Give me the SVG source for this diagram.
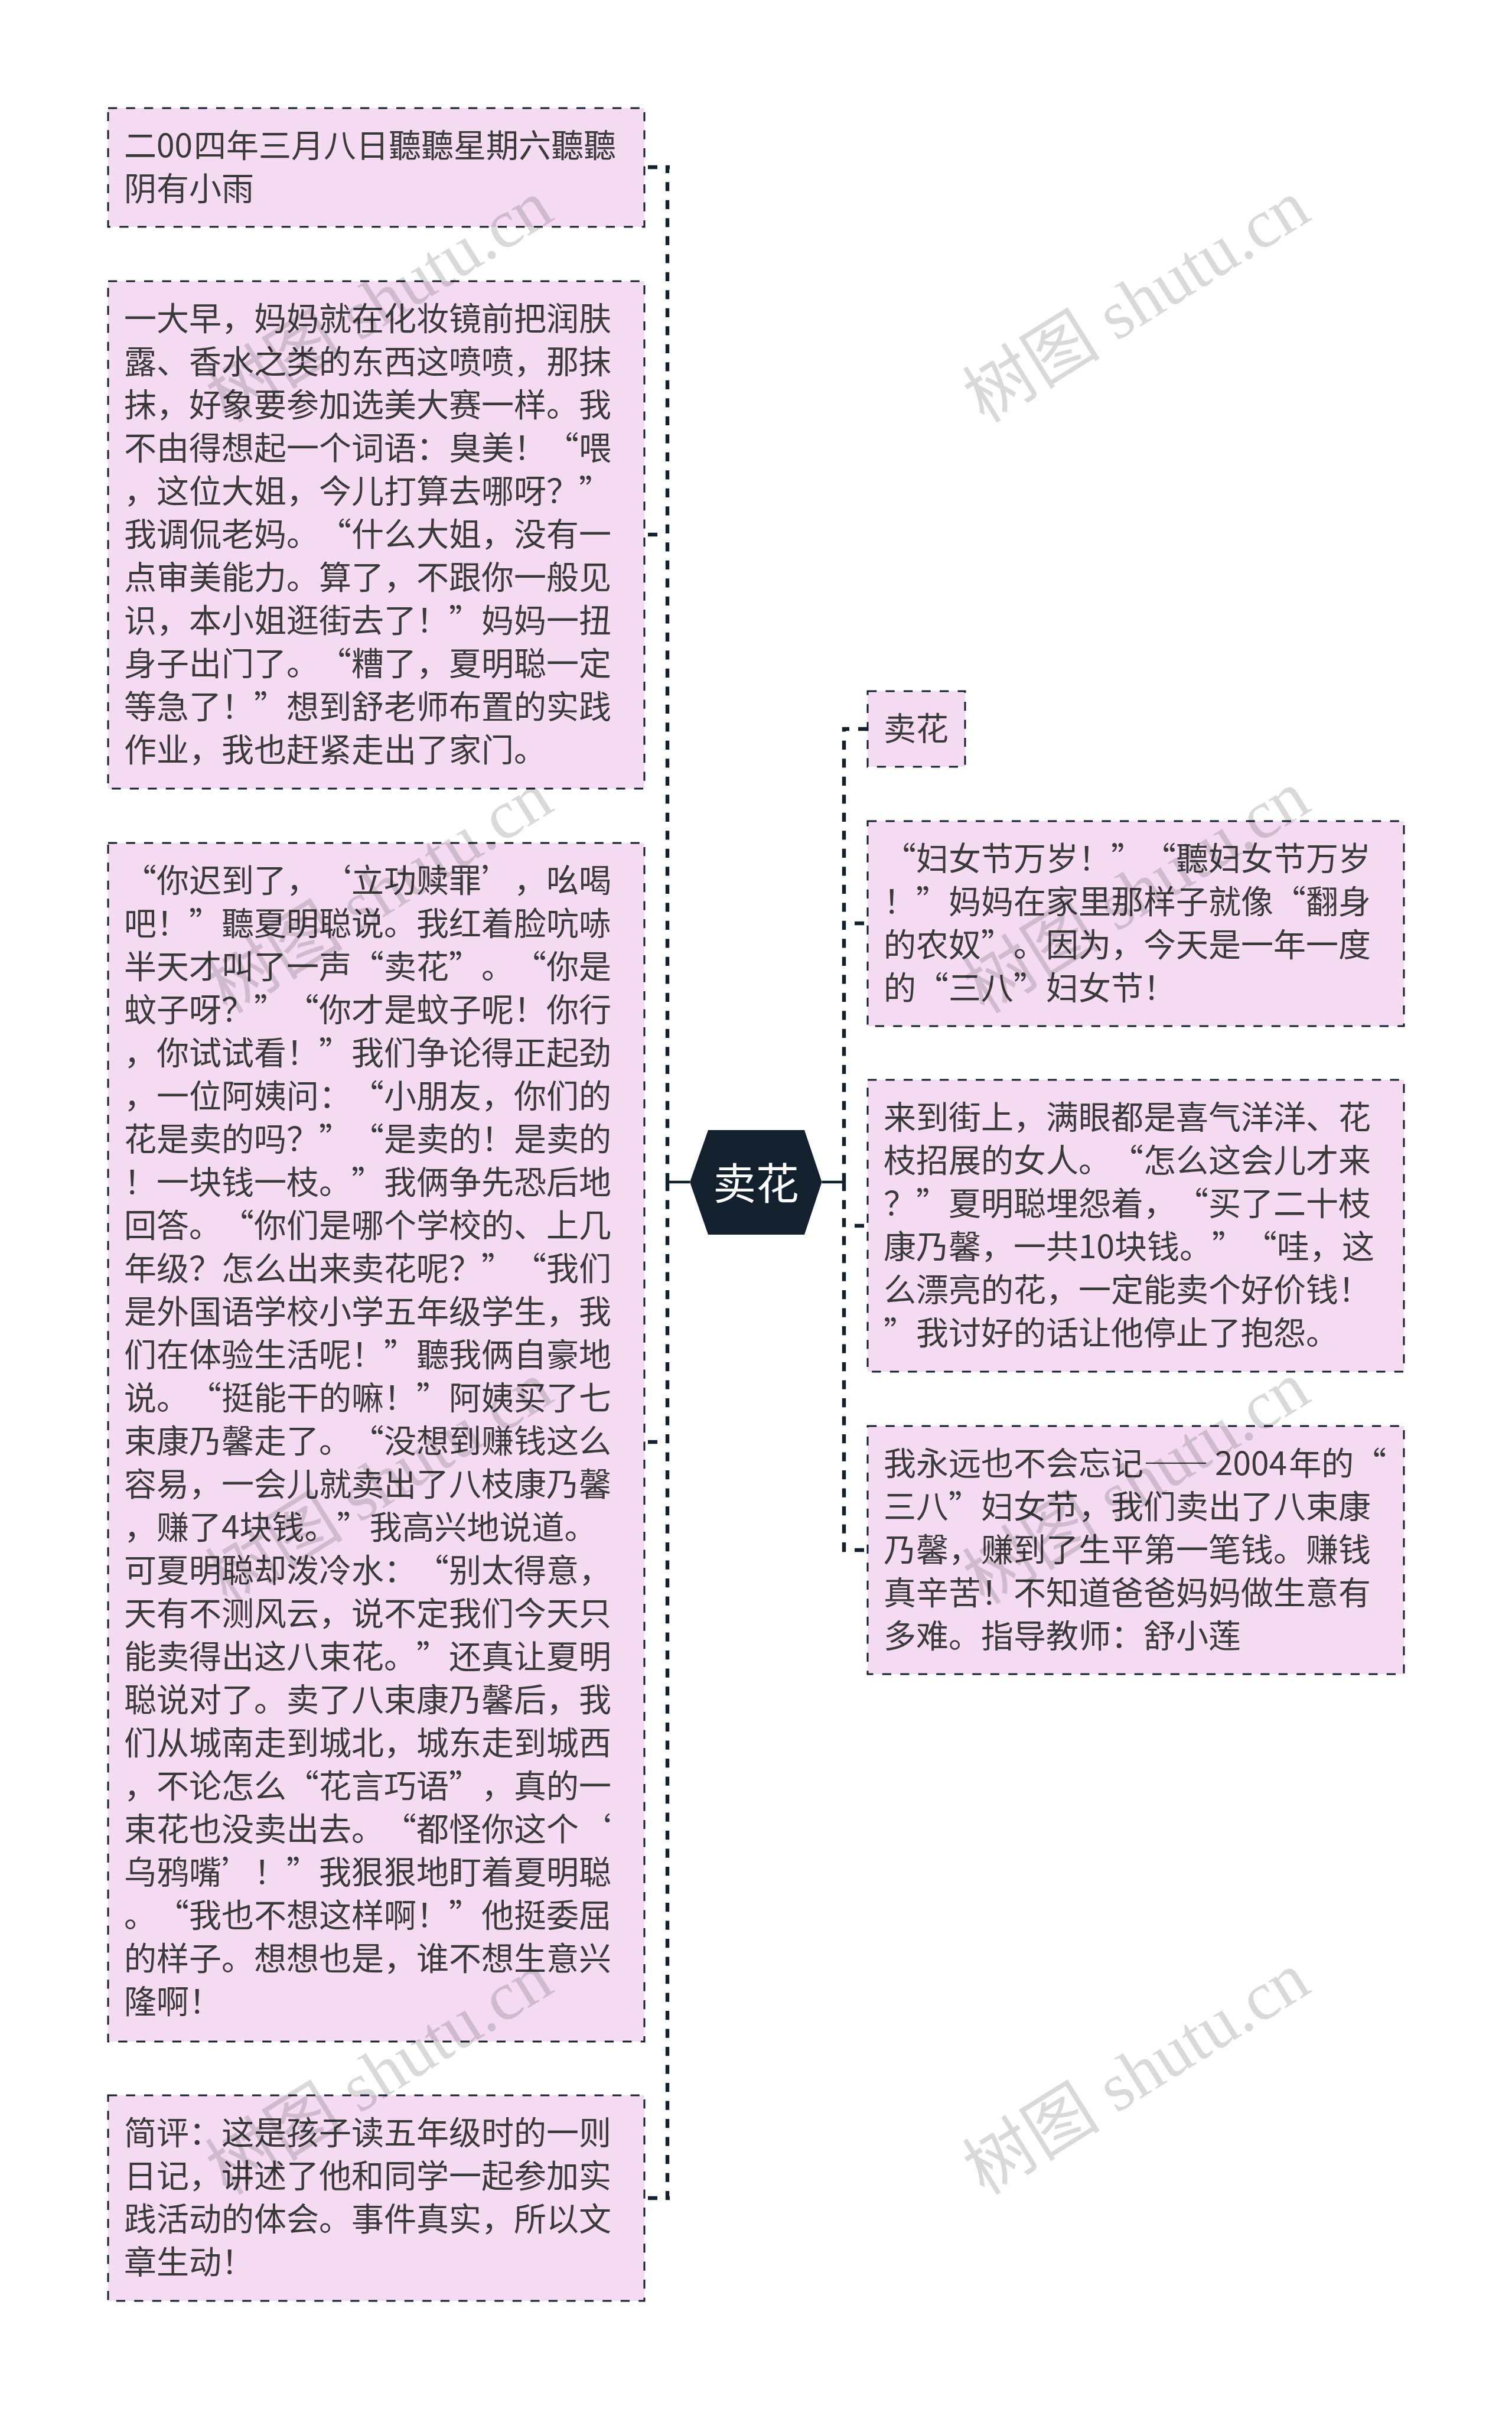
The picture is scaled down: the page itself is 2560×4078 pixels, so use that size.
<svg xmlns="http://www.w3.org/2000/svg" width="2560" height="4078" viewBox="0 0 2560 4078" xml:lang="zh-CN">
<style>
text{text-spacing-trim:space-all;font-kerning:none}
.box{fill:#f5dbf2;stroke:#13202e;stroke-width:3;stroke-dasharray:15.25 15.25}
.t{font-family:"Noto Sans CJK SC","Noto Sans",sans-serif;font-size:55px;fill:#3a3a3a}
.root{font-family:"Noto Sans CJK SC","Noto Sans",sans-serif;font-size:72.8px;fill:#fff;text-anchor:middle}
.c{fill:none;stroke:#13202e;stroke-width:6.4}
.d{stroke-dasharray:15.25 15.25}
.s{stroke-width:4.5}
.w{font-family:"Liberation Serif","Noto Sans CJK SC",serif;font-size:117px;fill:#000;fill-opacity:.15;text-anchor:middle}
</style>
<rect width="2560" height="4078" fill="#fff"/>
<g id="connectors">
<path class="c s" d="M1168 2001H1130M1391.5 2001H1429"/>
<path class="c d" d="M1130 2001V280"/>
<path class="c d" d="M1130 2001V3724"/>
<path class="c d" d="M1429 2001V1231"/>
<path class="c d" d="M1429 2001V2627"/>
<path class="c" d="M1127 283H1134M1113 283H1097"/>
<path class="c" d="M1113 905H1097"/>
<path class="c" d="M1113 2441H1097"/>
<path class="c" d="M1127 3721H1134M1113 3721H1097"/>
<path class="c" d="M1426 1234H1438M1453 1234H1469"/>
<path class="c" d="M1447 1563H1463"/>
<path class="c" d="M1447 2075H1463"/>
<path class="c" d="M1426 2624H1432M1447 2624H1463"/>
</g>
<g id="root"><polygon points="1168,2001 1199,1913 1362,1913 1391.5,2001 1362,2090 1199,2090" fill="#13202e"/><text class="root" x="1280" y="2030">卖花</text></g>
<g id="n1"><rect class="box" x="183" y="183" width="908" height="201"/><text class="t"><tspan x="210" y="266">二00<tspan dx="2">四年三月八日聽聽星期六聽聽</tspan></tspan><tspan x="210" y="339">阴有小雨</tspan></text></g>
<g id="n2"><rect class="box" x="183" y="476" width="908" height="859"/><text class="t"><tspan x="210" y="559">一大早，妈妈就在化妆镜前把润肤</tspan><tspan x="210" y="632">露、香水之类的东西这喷喷，那抹</tspan><tspan x="210" y="705">抹，好象要参加选美大赛一样。我</tspan><tspan x="210" y="778">不由得想起一个词语：臭美！“喂</tspan><tspan x="210" y="851">，这位大姐，今儿打算去哪呀？”</tspan><tspan x="210" y="924">我调侃老妈。“什么大姐，没有一</tspan><tspan x="210" y="997">点审美能力。算了，不跟你一般见</tspan><tspan x="210" y="1070">识，本小姐逛街去了！”妈妈一扭</tspan><tspan x="210" y="1143">身子出门了。“糟了，夏明聪一定</tspan><tspan x="210" y="1216">等急了！”想到舒老师布置的实践</tspan><tspan x="210" y="1289">作业，我也赶紧走出了家门。</tspan></text></g>
<g id="n3"><rect class="box" x="183" y="1427" width="908" height="2029"/><text class="t"><tspan x="210" y="1510">“你迟到了，‘立功赎罪’，吆喝</tspan><tspan x="210" y="1583">吧！”聽夏明聪说。我红着脸吭哧</tspan><tspan x="210" y="1656">半天才叫了一声“卖花”。“你是</tspan><tspan x="210" y="1729">蚊子呀？”“你才是蚊子呢！你行</tspan><tspan x="210" y="1802">，你试试看！”我们争论得正起劲</tspan><tspan x="210" y="1875">，一位阿姨问：“小朋友，你们的</tspan><tspan x="210" y="1948">花是卖的吗？”“是卖的！是卖的</tspan><tspan x="210" y="2021">！一块钱一枝。”我俩争先恐后地</tspan><tspan x="210" y="2094">回答。“你们是哪个学校的、上几</tspan><tspan x="210" y="2167">年级？怎么出来卖花呢？”“我们</tspan><tspan x="210" y="2240">是外国语学校小学五年级学生，我</tspan><tspan x="210" y="2313">们在体验生活呢！”聽我俩自豪地</tspan><tspan x="210" y="2386">说。“挺能干的嘛！”阿姨买了七</tspan><tspan x="210" y="2459">束康乃馨走了。“没想到赚钱这么</tspan><tspan x="210" y="2532">容易，一会儿就卖出了八枝康乃馨</tspan><tspan x="210" y="2605">，赚了4块钱。”我高兴地说道。</tspan><tspan x="210" y="2678">可夏明聪却泼冷水：“别太得意，</tspan><tspan x="210" y="2751">天有不测风云，说不定我们今天只</tspan><tspan x="210" y="2824">能卖得出这八束花。”还真让夏明</tspan><tspan x="210" y="2897">聪说对了。卖了八束康乃馨后，我</tspan><tspan x="210" y="2970">们从城南走到城北，城东走到城西</tspan><tspan x="210" y="3043">，不论怎么“花言巧语”，真的一</tspan><tspan x="210" y="3116">束花也没卖出去。“都怪你这个‘</tspan><tspan x="210" y="3189">乌鸦嘴’！”我狠狠地盯着夏明聪</tspan><tspan x="210" y="3262">。“我也不想这样啊！”他挺委屈</tspan><tspan x="210" y="3335">的样子。想想也是，谁不想生意兴</tspan><tspan x="210" y="3408">隆啊！</tspan></text></g>
<g id="n4"><rect class="box" x="183" y="3547" width="908" height="348"/><text class="t"><tspan x="210" y="3630">简评：这是孩子读五年级时的一则</tspan><tspan x="210" y="3703">日记，讲述了他和同学一起参加实</tspan><tspan x="210" y="3776">践活动的体会。事件真实，所以文</tspan><tspan x="210" y="3849">章生动！</tspan></text></g>
<g id="n5"><rect class="box" x="1469" y="1170" width="165" height="128"/><text class="t" x="1496" y="1253">卖花</text></g>
<g id="n6"><rect class="box" x="1469" y="1390" width="908" height="347"/><text class="t"><tspan x="1496" y="1473">“妇女节万岁！”“聽妇女节万岁</tspan><tspan x="1496" y="1546">！”妈妈在家里那样子就像“翻身</tspan><tspan x="1496" y="1619">的农奴”。因为，今天是一年一度</tspan><tspan x="1496" y="1692">的“三八”妇女节！</tspan></text></g>
<g id="n7"><rect class="box" x="1469" y="1828" width="908" height="494"/><text class="t"><tspan x="1496" y="1911">来到街上，满眼都是喜气洋洋、花</tspan><tspan x="1496" y="1984">枝招展的女人。“怎么这会儿才来</tspan><tspan x="1496" y="2057">？”夏明聪埋怨着，“买了二十枝</tspan><tspan x="1496" y="2130">康乃馨，一共10块钱。”“哇，这</tspan><tspan x="1496" y="2203">么漂亮的花，一定能卖个好价钱！</tspan><tspan x="1496" y="2276">”我讨好的话让他停止了抱怨。</tspan></text></g>
<g id="n8"><rect class="box" x="1469" y="2414" width="908" height="420"/><text class="t"><tspan x="1496" y="2497">我永远也不会忘记——<tspan dx="11">2004</tspan><tspan dx="3">年的“</tspan></tspan><tspan x="1496" y="2570">三八”妇女节，我们卖出了八束康</tspan><tspan x="1496" y="2643">乃馨，赚到了生平第一笔钱。赚钱</tspan><tspan x="1496" y="2716">真辛苦！不知道爸爸妈妈做生意有</tspan><tspan x="1496" y="2789">多难。指导教师：舒小莲</tspan></text></g>
<g id="watermarks">
<text class="w" transform="translate(642 510) rotate(-32)" y="40">树图 shutu.cn</text>
<text class="w" transform="translate(1924 510) rotate(-32)" y="40">树图 shutu.cn</text>
<text class="w" transform="translate(642 1510) rotate(-32)" y="40">树图 shutu.cn</text>
<text class="w" transform="translate(1924 1510) rotate(-32)" y="40">树图 shutu.cn</text>
<text class="w" transform="translate(642 2510) rotate(-32)" y="40">树图 shutu.cn</text>
<text class="w" transform="translate(1924 2510) rotate(-32)" y="40">树图 shutu.cn</text>
<text class="w" transform="translate(642 3510) rotate(-32)" y="40">树图 shutu.cn</text>
<text class="w" transform="translate(1924 3510) rotate(-32)" y="40">树图 shutu.cn</text>
</g>
</svg>
